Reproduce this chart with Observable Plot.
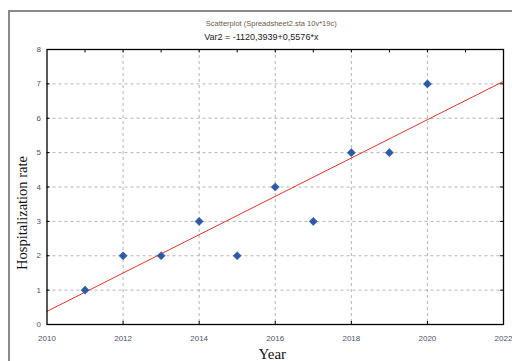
<!DOCTYPE html>
<html>
<head>
<meta charset="utf-8">
<script src="https://cdn.jsdelivr.net/npm/d3@7"></script>
<script src="https://cdn.jsdelivr.net/npm/@observablehq/plot@0.6"></script>
<style>
  html, body { margin: 0; padding: 0; background: #fff; }
  #wrap { position: relative; width: 512px; height: 361px; overflow: hidden; }
  #outer { position: absolute; left: 8px; top: 10px; width: 600px; height: 400px;
           border-left: 2px solid #8a8a8a; border-top: 2px solid #8a8a8a; }
  #chart { position: absolute; left: 0; top: 0; }
</style>
</head>
<body>
<div id="wrap"><div id="outer"></div><div id="chart"></div></div>
<script>
const titleText = "Scatterplot (Spreadsheet2.sta 10v*19c)";
const subtitleText = "Var2 = -1120,3939+0,5576*x";
const xLabel = "Year";
const yLabel = "Hospitalization rate";

const years = [2011, 2012, 2013, 2014, 2015, 2016, 2017, 2018, 2019, 2020];
const rates = [1, 2, 2, 3, 2, 4, 3, 5, 5, 7];

const intercept = -1120.3939;
const slope = 0.5576;

const xDomain = [2010, 2022];
const yDomain = [0, 8];
const xTicks = [2010, 2012, 2014, 2016, 2018, 2020, 2022];
const xGrid = [2012, 2014, 2016, 2018, 2020];
const xMinor = [2011, 2012, 2013, 2014, 2015, 2016, 2017, 2018, 2019, 2020, 2021];
const yTicks = [0, 1, 2, 3, 4, 5, 6, 7, 8];
const yGrid = [1, 2, 3, 4, 5, 6, 7];

const points = years.map((y, i) => ({year: y, rate: rates[i]}));
const fitLine = xDomain.map(x => ({year: x, rate: intercept + slope * x}));

const tickColor = "#4b5266";

const chart = Plot.plot({
  width: 512,
  height: 361,
  marginLeft: 46.5,
  marginRight: 9,
  marginTop: 49,
  marginBottom: 37,
  style: {background: "transparent", fontFamily: "Arial, 'Liberation Sans', sans-serif"},
  x: {domain: xDomain},
  y: {domain: yDomain},
  marks: [
    Plot.ruleX(xGrid, {stroke: "#b5b5b5", strokeDasharray: "3,3", strokeWidth: 1}),
    Plot.ruleY(yGrid, {stroke: "#b5b5b5", strokeDasharray: "3,3", strokeWidth: 1}),
    Plot.axisX({ticks: xTicks, tickSize: 0, tickPadding: 11, fontSize: 8, fill: tickColor, label: null, tickFormat: d => String(d)}),
    Plot.axisY({ticks: yTicks, tickSize: 0, tickPadding: 6, fontSize: 8, fill: tickColor, label: null}),
    Plot.ruleX(xMinor, {y1: 8, y2: 7.9, stroke: "#000"}),
    Plot.ruleX(xGrid, {y1: 0, y2: 0.09, stroke: "#000"}),
    Plot.ruleY(yGrid, {x1: 2010, x2: 2010.08, stroke: "#000"}),
    Plot.ruleY(yGrid, {x1: 2022, x2: 2021.92, stroke: "#000"}),
    Plot.line(fitLine, {x: "year", y: "rate", stroke: "#e8332b", strokeWidth: 1}),
    Plot.dot(points, {x: "year", y: "rate", symbol: "diamond2", r: 3.7, fill: "#2c5aa6", stroke: "#2c5aa6", strokeWidth: 0.5}),
    Plot.frame({stroke: "#000", strokeWidth: 1.3}),
    Plot.text([titleText], {frameAnchor: "top", dx: -4, dy: -29, fontSize: 7.5, fill: "#6a5a4c"}),
    Plot.text([subtitleText], {frameAnchor: "top", dx: -14, dy: -15.5, fontSize: 9, fill: "#222"}),
    Plot.text([xLabel], {frameAnchor: "bottom", dx: -3, dy: 34, fontSize: 15, fontFamily: "'Liberation Serif', 'DejaVu Serif', serif", fill: "#111"}),
    Plot.text([yLabel], {frameAnchor: "left", textAnchor: "middle", rotate: -90, dx: -25, dy: 26, fontSize: 14.5, fontFamily: "'Liberation Serif', 'DejaVu Serif', serif", fill: "#111"})
  ]
});
document.getElementById("chart").appendChild(chart);
</script>
</body>
</html>
